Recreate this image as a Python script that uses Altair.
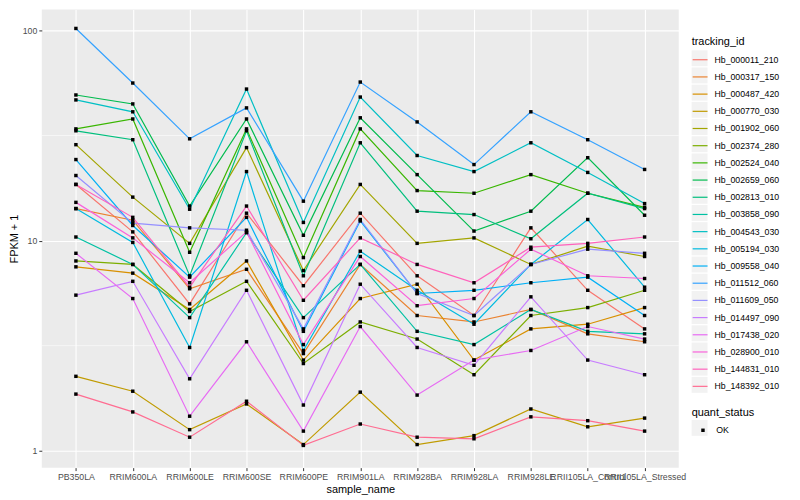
import altair as alt
import pandas as pd

samples = ["PB350LA", "RRIM600LA", "RRIM600LE", "RRIM600SE", "RRIM600PE", "RRIM901LA",
           "RRIM928BA", "RRIM928LA", "RRIM928LE", "RRII105LA_Control", "RRII105LA_Stressed"]

tracking_ids = ["Hb_000011_210", "Hb_000317_150", "Hb_000487_420", "Hb_000770_030", "Hb_001902_060",
                "Hb_002374_280", "Hb_002524_040", "Hb_002659_060", "Hb_002813_010", "Hb_003858_090",
                "Hb_004543_030", "Hb_005194_030", "Hb_009558_040", "Hb_011512_060", "Hb_011609_050",
                "Hb_014497_090", "Hb_017438_020", "Hb_028900_010", "Hb_144831_010", "Hb_148392_010"]

hue_colors = ["#F8766D", "#EA8331", "#D89000", "#C09B00", "#A3A500", "#7CAE00", "#39B600", "#00BB4E",
              "#00BF7D", "#00C1A3", "#00BFC4", "#00BAE0", "#00B0F6", "#35A2FF", "#9590FF", "#C77CFF",
              "#E76BF3", "#FA62DB", "#FF62BC", "#FF6C91"]

# FPKM + 1 per sample (same order as `samples`)
hb_000011_210 = [18.5, 11.0, 5.0, 13.5, 6.1, 13.5, 6.8, 4.4, 11.5, 5.8, 3.8]
hb_000317_150 = [14.2, 12.5, 5.9, 7.3, 2.9, 7.7, 4.4, 4.1, 4.7, 3.6, 3.3]
hb_000487_420 = [7.5, 7.0, 4.7, 8.0, 2.7, 5.3, 6.2, 2.7, 3.8, 4.0, 4.8]
hb_000770_030 = [2.26, 1.92, 1.26, 1.67, 1.07, 1.90, 1.07, 1.18, 1.58, 1.30, 1.43]
hb_001902_060 = [28.6, 16.1, 9.7, 27.7, 7.2, 18.5, 9.7, 10.3, 7.7, 9.4, 8.4]
hb_002374_280 = [8.0, 7.7, 4.6, 6.4, 2.6, 4.1, 3.4, 2.3, 4.4, 4.8, 5.8]
hb_002524_040 = [34.0, 37.9, 8.8, 34.0, 8.3, 34.0, 17.3, 16.8, 20.6, 16.8, 14.4]
hb_002659_060 = [49.3, 44.7, 14.6, 37.9, 10.6, 38.4, 20.6, 11.1, 13.8, 24.8, 13.2]
hb_002813_010 = [33.3, 30.2, 6.8, 33.3, 6.8, 29.2, 13.8, 13.3, 10.2, 16.8, 14.2]
hb_003858_090 = [10.4, 7.7, 4.3, 10.9, 4.3, 7.7, 3.7, 3.2, 4.7, 3.7, 3.6]
hb_004543_030 = [46.7, 41.0, 14.1, 52.6, 12.2, 48.2, 25.4, 21.3, 29.2, 21.1, 15.0]
hb_005194_030 = [14.2, 9.8, 3.1, 21.3, 3.0, 8.9, 5.8, 4.0, 7.7, 12.6, 6.0]
hb_009558_040 = [24.3, 11.8, 6.7, 12.9, 3.7, 12.4, 5.6, 5.8, 6.3, 6.7, 4.4]
hb_011512_060 = [102.2, 56.2, 30.5, 42.8, 15.4, 56.8, 36.7, 23.0, 41.0, 30.2, 21.8]
hb_011609_050 = [20.4, 12.1, 11.5, 11.2, 3.8, 12.6, 5.6, 4.4, 7.7, 9.1, 8.7]
hb_014497_090 = [5.5, 6.4, 2.2, 5.8, 1.65, 6.2, 3.1, 2.55, 5.4, 2.7, 2.3]
hb_017438_020 = [8.7, 5.3, 1.46, 3.3, 1.24, 3.9, 1.84, 2.7, 3.0, 3.9, 3.4]
hb_028900_010 = [15.2, 10.3, 6.3, 11.0, 3.2, 8.4, 4.9, 5.3, 9.1, 6.8, 6.6]
hb_144831_010 = [18.5, 12.9, 6.0, 14.6, 5.2, 10.3, 7.7, 6.3, 9.3, 9.7, 10.4]
hb_148392_010 = [1.86, 1.53, 1.16, 1.72, 1.06, 1.34, 1.16, 1.14, 1.45, 1.39, 1.24]

series = [hb_000011_210, hb_000317_150, hb_000487_420, hb_000770_030, hb_001902_060,
          hb_002374_280, hb_002524_040, hb_002659_060, hb_002813_010, hb_003858_090,
          hb_004543_030, hb_005194_030, hb_009558_040, hb_011512_060, hb_011609_050,
          hb_014497_090, hb_017438_020, hb_028900_010, hb_144831_010, hb_148392_010]

y_ticks = [1, 10, 100]
minor_breaks = [3.1623, 31.623]

rows = []
for tid, vals in zip(tracking_ids, series):
    for s, v in zip(samples, vals):
        rows.append({"tracking_id": tid, "key_bg": tid, "sample_name": s,
                     "fpkm": v, "quant_status": "OK", "qs_bg": "OK"})
df = pd.DataFrame(rows)
minor_df = pd.DataFrame({"fpkm": minor_breaks})

FONT = "Liberation Sans"

x_enc = alt.X("sample_name:N", sort=samples,
              scale=alt.Scale(type="point", padding=0.6),
              axis=alt.Axis(title="sample_name", labelAngle=0, labelOverlap=False,
                            labelPadding=2, titlePadding=2))
y_scale = alt.Scale(type="log", domain=[0.831, 125.7], nice=False)
y_enc = alt.Y("fpkm:Q", scale=y_scale,
              axis=alt.Axis(title="FPKM + 1", values=y_ticks, format="d",
                            labelPadding=2, titlePadding=3))

minor = alt.Chart(minor_df).mark_rule(color="white", strokeWidth=0.55).encode(
    y=alt.Y("fpkm:Q", scale=y_scale))

lines = alt.Chart(df).mark_line(strokeWidth=1.2).encode(
    x=x_enc, y=y_enc,
    color=alt.Color("tracking_id:N",
                    scale=alt.Scale(domain=tracking_ids, range=hue_colors),
                    legend=alt.Legend(title="tracking_id", orient="none", legendX=654, legendY=27,
                                      padding=0, symbolType="stroke", symbolSize=225,
                                      symbolStrokeWidth=1.2, labelOffset=6, rowPadding=3.3,
                                      titlePadding=4, zindex=2, labelLimit=200,
                                      labelColor="black", titleColor="black")),
    detail="tracking_id:N")

key_bg = alt.Chart(df).mark_point(filled=True, size=1, shape="square", opacity=1).encode(
    x=x_enc, y=y_enc,
    fill=alt.Fill("key_bg:N",
                  scale=alt.Scale(domain=tracking_ids, range=["#F2F2F2"] * len(tracking_ids)),
                  legend=alt.Legend(title=None, orient="none", legendX=654, legendY=41,
                                    padding=0, symbolType="square", symbolSize=256,
                                    symbolStrokeWidth=0, rowPadding=1.3, labelExpr="''",
                                    zindex=1, symbolOpacity=1)))

qs_bg = alt.Chart(df).mark_point(filled=True, size=1, shape="square", color="#F2F2F2").encode(
    x=x_enc, y=y_enc,
    opacity=alt.Opacity("qs_bg:O", scale=alt.Scale(domain=["OK"], range=[1]),
                        legend=alt.Legend(title=None, orient="none", legendX=654, legendY=413,
                                          padding=0, symbolType="square", symbolSize=256,
                                          symbolStrokeWidth=0, symbolFillColor="#F2F2F2",
                                          labelExpr="''", zindex=1)))

points = alt.Chart(df).mark_point(filled=True, size=12, shape="square", opacity=1, color="black").encode(
    x=x_enc, y=y_enc,
    shape=alt.Shape("quant_status:N", scale=alt.Scale(domain=["OK"], range=["square"]),
                    legend=alt.Legend(title="quant_status", orient="none", legendX=654, legendY=400,
                                      padding=0, symbolSize=12, symbolOffset=7,
                                      symbolFillColor="black", symbolStrokeColor="black",
                                      labelOffset=9, titlePadding=8, zindex=2)))

chart = alt.layer(minor, lines, key_bg, qs_bg, points).resolve_legend(
    color="independent", fill="independent", shape="independent", opacity="independent"
).properties(
    width=641, height=461,
    autosize=alt.AutoSizeParams(type="none"),
    padding={"left": 34, "top": 0, "right": 114, "bottom": 30},
    background="white",
).configure_view(
    fill="#EBEBEB", strokeWidth=0
).configure_axis(
    labelFont=FONT, labelFontSize=8.8, labelColor="#4D4D4D",
    tickColor="#333333", tickSize=3, tickWidth=1,
    domain=False, grid=True, gridColor="white", gridWidth=1.1,
    titleFont=FONT, titleFontSize=11, titleFontWeight="normal", titleColor="black"
).configure_legend(
    labelFont=FONT, labelFontSize=8.8,
    titleFont=FONT, titleFontSize=11, titleFontWeight="normal"
)

chart.save("out.html", embed_options={"renderer": "svg", "actions": False})
